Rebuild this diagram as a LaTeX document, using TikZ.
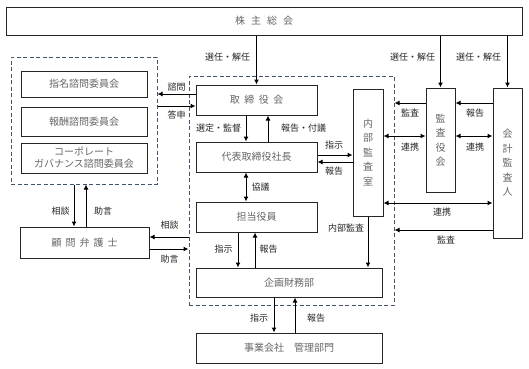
\documentclass[tikz,border=0pt]{standalone}
\usepackage{fontspec}
\setmainfont{Noto Sans CJK JP}
\usetikzlibrary{arrows.meta}
\definecolor{dashc}{HTML}{44546A}
\begin{document}
\begin{tikzpicture}[x=1pt,y=-1pt,
  box/.style={draw=black!85,line width=1pt,fill=white,inner sep=0pt,text=black!60,font=\fontsize{10}{13}\selectfont,align=center},
  grp/.style={draw=dashc,line width=1pt,dash pattern=on 4pt off 2.5pt,inner sep=0pt},
  vbox/.style={box,font=\fontsize{10}{14.5}\selectfont},
  lab/.style={inner sep=0pt,text=black!85,font=\fontsize{9}{10}\selectfont},
  arr/.style={-{Latex[length=5pt,width=5pt]},line width=1pt,draw=black},
  darr/.style={{Latex[length=5pt,width=5pt]}-{Latex[length=5pt,width=5pt]},line width=1pt,draw=black}]
\useasboundingbox[fill=white] (0,0) rectangle (529,368);
% dashed groups
\node[grp,minimum width=146pt,minimum height=127pt] (ldash) at (84,120.5) {};
\node[grp,minimum width=205pt,minimum height=229pt] (mdash) at (291.5,190.5) {};
% boxes
\node[box,minimum width=516pt,minimum height=28pt] (gm) at (264,21) {株\hspace{6pt}主\hspace{6pt}総\hspace{6pt}会};
\node[box,minimum width=121pt,minimum height=30pt] (tb) at (256.5,100) {取\hspace{4.5pt}締\hspace{4.5pt}役\hspace{4.5pt}会};
\node[box,minimum width=121pt,minimum height=30pt] (ceo) at (256.5,157) {代表取締役社長};
\node[box,minimum width=121pt,minimum height=30pt] (tan) at (256.5,217) {担当役員};
\node[box,minimum width=186pt,minimum height=29pt] (kik) at (289,282.5) {企画財務部};
\node[box,minimum width=186pt,minimum height=30pt] (jig) at (289,348) {事業会社　管理部門};
\node[vbox,minimum width=30pt,minimum height=127pt] (nai) at (368,152.5) {内\\部\\監\\査\\室};
\node[vbox,minimum width=29pt,minimum height=104pt] (ka) at (440.5,140) {監\\査\\役\\会};
\node[vbox,minimum width=29pt,minimum height=150pt] (kai) at (507.5,163) {会\\計\\監\\査\\人};
\node[box,minimum width=126pt,minimum height=26pt] (com1) at (84,84) {指名諮問委員会};
\node[box,minimum width=126pt,minimum height=29pt] (com2) at (84,121.5) {報酬諮問委員会};
\node[box,minimum width=126pt,minimum height=30pt,font=\fontsize{10}{12}\selectfont] (com3) at (84,158) {コーポレート\\ガバナンス諮問委員会};
\node[box,minimum width=129pt,minimum height=31pt] (ben) at (84.5,242.5) {顧\hspace{4pt}問\hspace{4pt}弁\hspace{4pt}護\hspace{4pt}士};
% helper coordinates
\coordinate (y94) at (0,94);
\coordinate (y106) at (0,106);
\coordinate (y103) at (0,103);
\coordinate (y136) at (0,136);
\coordinate (y155) at (0,155);
\coordinate (y162) at (0,162);
\coordinate (y203) at (0,203);
\coordinate (y230) at (0,230);
\coordinate (y237) at (0,237);
\coordinate (y249) at (0,249);
\coordinate (x74) at (74,0);
\coordinate (x86) at (86,0);
\coordinate (x238) at (238,0);
\coordinate (x246) at (246,0);
\coordinate (x255) at (255,0);
\coordinate (x268) at (268,0);
\coordinate (x274) at (274,0);
\coordinate (x295) at (295,0);
% shareholders
\draw[arr] (gm.south -| tb) -- (tb.north);
\draw[arr] (gm.south -| ka) -- (ka.north);
\draw[arr] (gm.south -| kai) -- (kai.north);
\node[lab] at (227.5,57) {選任・解任};
\node[lab] at (412.5,57) {選任・解任};
\node[lab] at (478.5,57) {選任・解任};
% audit side
\draw[arr] (kai.west |- y103) -- (ka.east |- y103);
\node[lab] at (475,113) {報告};
\draw[arr] (ka.west |- y103) -- (mdash.east |- y103);
\node[lab] at (410,113) {監査};
\draw[darr] (nai.east |- y136) -- (ka.west |- y136);
\node[lab] at (410,147) {連携};
\draw[darr] (ka.east |- y136) -- (kai.west |- y136);
\node[lab] at (475,147) {連携};
\draw[darr] (nai.east |- y203) -- (kai.west |- y203);
\node[lab] at (442,212) {連携};
\draw[arr] (kai.west |- y230) -- (mdash.east |- y230);
\node[lab] at (446,240) {監査};
% internal
\draw[arr] (ceo.east |- y155) -- (nai.west |- y155);
\node[lab] at (334,145) {指示};
\draw[arr] (nai.west |- y162) -- (ceo.east |- y162);
\node[lab] at (334,171) {報告};
\draw[arr] (tb.south -| x246) -- (ceo.north -| x246);
\node[lab] at (218.5,128) {選定・監督};
\draw[arr] (ceo.north -| x268) -- (tb.south -| x268);
\node[lab] at (303.5,128) {報告・付議};
\draw[darr] (ceo.south -| x246) -- (tan.north -| x246);
\node[lab] at (260.5,187) {協議};
\draw[arr] (tan.south -| x238) -- (kik.north -| x238);
\node[lab] at (223.5,249) {指示};
\draw[arr] (kik.north -| x255) -- (tan.south -| x255);
\node[lab] at (268.5,249) {報告};
\draw[arr] (nai.south) -- (kik.north -| nai);
\node[lab] at (346,228) {内部監査};
\draw[arr] (kik.south -| x274) -- (jig.north -| x274);
\node[lab] at (259,318) {指示};
\draw[arr] (jig.north -| x295) -- (kik.south -| x295);
\node[lab] at (316,318) {報告};
% committees and lawyer
\draw[arr] (tb.west |- y94) -- (ldash.east |- y94);
\node[lab] at (176.5,87) {諮問};
\draw[arr] (ldash.east |- y106) -- (tb.west |- y106);
\node[lab] at (176.5,115) {答申};
\draw[arr] (ldash.south -| x74) -- (ben.north -| x74);
\node[lab] at (60.5,211) {相談};
\draw[arr] (ben.north -| x86) -- (ldash.south -| x86);
\node[lab] at (103,211) {助言};
\draw[arr] (mdash.west |- y237) -- (ben.east |- y237);
\node[lab] at (169.5,225) {相談};
\draw[arr] (ben.east |- y249) -- (mdash.west |- y249);
\node[lab] at (169.5,259) {助言};
\end{tikzpicture}
\end{document}
